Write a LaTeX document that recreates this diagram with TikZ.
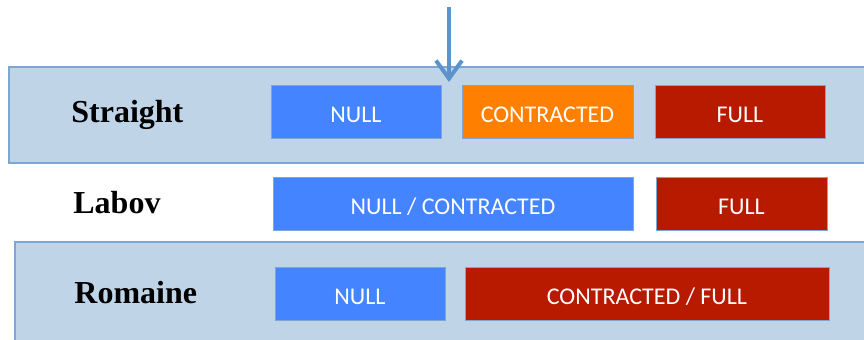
\documentclass[tikz,border=0pt]{standalone}
\usepackage{fontspec}
\setmainfont{Liberation Serif}
\newfontfamily\boxfont{Carlito}
\usetikzlibrary{arrows.meta}
\definecolor{bandfill}{RGB}{192,212,232}
\definecolor{bandline}{RGB}{126,166,211}
\definecolor{nullblue}{RGB}{68,133,255}
\definecolor{controrange}{RGB}{255,128,0}
\definecolor{fullred}{RGB}{184,26,0}
\definecolor{arrowblue}{RGB}{91,148,204}
\tikzstyle{band}=[fill=bandfill, draw=bandline, line width=0.6pt]
\tikzstyle{dialect}=[anchor=base west, inner sep=0pt, font=\fontsize{16}{18}\selectfont\bfseries]
\tikzstyle{cell}=[draw=bandline, line width=0.5pt, minimum height=26.5pt, inner sep=0pt,
  text height=10.7pt, text depth=0pt, text=white, font=\boxfont\fontsize{12}{14}\selectfont]

\begin{document}
\begin{tikzpicture}[x=0.5pt, y=-0.5pt]
                \useasboundingbox (0,0) rectangle (864,339);
                \draw[band] (9,67) rectangle (880,163);
                \draw[band] (15,242) rectangle (880,360);
                \node[dialect] (s) at (71, 122) {Straight};
                \node[dialect] (l) at (73, 213) {Labov};
                \node[dialect] (r) at (74, 303) {Romaine};
                \node[cell, fill=nullblue, minimum width=85pt] (sn) at (356, 112) {NULL};
                \node[cell, fill=controrange, minimum width=85.5pt] (sc) at (547.5, 112) {CONTRACTED};
                \node[cell, fill=fullred, minimum width=85pt] (sf) at (740, 112) {FULL};
                \node[cell, fill=nullblue, minimum width=180pt] (ln) at (453, 203.5) {NULL / CONTRACTED};
                \node[cell, fill=fullred, minimum width=85.5pt] (lf) at (741.5, 203.5) {FULL};
                \node[cell, fill=nullblue, minimum width=85pt] (rn) at (360, 293.5) {NULL};
                \node[cell, fill=fullred, minimum width=182pt] (rc) at (647, 293.5) {CONTRACTED / FULL};
                \coordinate (top) at (449, 7);
                \coordinate (tip) at (449, 82);
                \draw[-{Straight Barb[length=9pt, width=13pt, line width=2pt]}, arrowblue, line width=2pt] (top)--(tip);
            \end{tikzpicture}
\end{document}
